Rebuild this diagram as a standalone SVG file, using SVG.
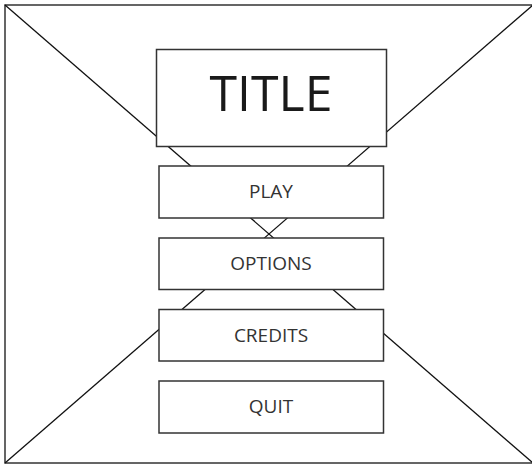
<svg xmlns="http://www.w3.org/2000/svg" width="532" height="466" viewBox="0 0 532 466">
<style>
.frame{fill:#ffffff;stroke:#333333;stroke-width:1.5}
.diag{stroke:#111111;stroke-width:1.3;fill:none}
.box{fill:#ffffff;stroke:#333333;stroke-width:1.5}
.lbl{font-family:"Open Sans","Liberation Sans",sans-serif;font-size:19px;fill:#333333;text-anchor:middle}
.title{font-family:"Open Sans","Liberation Sans",sans-serif;font-size:50px;fill:#1a1a1a;text-anchor:middle}
</style>
<rect class="frame" x="5" y="5" width="529" height="458"/>
<g id="connectors">
<line class="diag" x1="5" y1="5" x2="533" y2="463"/>
<line class="diag" x1="533" y1="5" x2="5" y2="463"/>
</g>
<g id="title"><rect class="box" x="156.5" y="49.5" width="230" height="97"/><text class="title" x="271" y="111">TITLE</text></g>
<g id="play"><rect class="box" x="159" y="166" width="224.5" height="52"/><text class="lbl" x="271" y="198">PLAY</text></g>
<g id="options"><rect class="box" x="159" y="238" width="224.5" height="51.5"/><text class="lbl" x="271" y="270">OPTIONS</text></g>
<g id="credits"><rect class="box" x="159" y="309.5" width="224.5" height="51.5"/><text class="lbl" x="271" y="341.5">CREDITS</text></g>
<g id="quit"><rect class="box" x="159" y="381" width="224.5" height="52"/><text class="lbl" x="271" y="413">QUIT</text></g>
</svg>
